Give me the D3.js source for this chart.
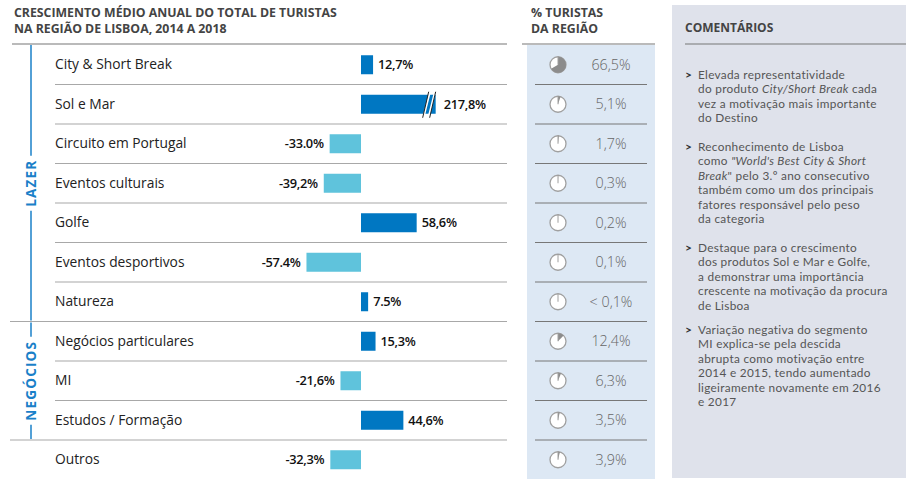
<!DOCTYPE html>
<html><head><meta charset="utf-8">
<script src="https://cdn.jsdelivr.net/npm/d3@7"></script>
<style>
html,body{margin:0;padding:0;background:#fff;}
svg{display:block;font-family:"Open Sans",Lato,sans-serif;}
</style></head>
<body><svg id="c" width="906" height="479"></svg>
<script>
const categories = ["City & Short Break","Sol e Mar","Circuito em Portugal","Eventos culturais","Golfe","Eventos desportivos","Natureza","Negócios particulares","MI","Estudos / Formação","Outros"];
const growth = [12.7, 217.8, -33.0, -39.2, 58.6, -57.4, 7.5, 15.3, -21.6, 44.6, -32.3];
const growthLabels = ["12,7%","217,8%","-33.0%","-39,2%","58,6%","-57.4%","7.5%","15,3%","-21,6%","44,6%","-32,3%"];
const share = [66.5, 5.1, 1.7, 0.3, 0.2, 0.1, 0.05, 12.4, 6.3, 3.5, 3.9];
const shareLabels = ["66,5%","5,1%","1,7%","0,3%","0,2%","0,1%","< 0,1%","12,4%","6,3%","3,5%","3,9%"];
const groups = [{name:"LAZER", from:0, to:6},{name:"NEGÓCIOS", from:7, to:9}];
const titleLines = ["CRESCIMENTO MÉDIO ANUAL DO TOTAL DE TURISTAS","NA REGIÃO DE LISBOA, 2014 A 2018"];
const shareTitle = ["% TURISTAS","DA REGIÃO"];
const commentsTitle = "COMENTÁRIOS";
const comments = [
  [["Elevada representatividade"],["do produto ",{i:"City/Short Break"}," cada"],["vez a motivação mais importante"],["do Destino"]],
  [["Reconhecimento de Lisboa"],["como ",{i:"\"World's Best City & Short"}],[{i:"Break"},"\" pelo 3.º ano consecutivo"],["também como um dos principais"],["fatores responsável pelo peso"],["da categoria"]],
  [["Destaque para o crescimento"],["dos produtos Sol e Mar e Golfe,"],["a demonstrar uma importância"],["crescente na motivação da procura"],["de Lisboa"]],
  [["Variação negativa do segmento"],["MI explica-se pela descida"],["abrupta como motivação entre"],["2014 e 2015, tendo aumentado"],["ligeiramente novamente em 2016"],["e 2017"]]
];
const breakAt = 78.6;

const svg = d3.select("#c");
const y = d3.scaleBand().domain(categories).range([45, 479.5]).padding(0);
const x = d3.scaleLinear().domain([0, 100]).range([361, 456]);
const bh = 19;

// Title
svg.append("g").selectAll("text").data(titleLines).join("text")
  .attr("x", 14).attr("y", (d,i)=>17+i*16)
  .attr("font-size", 12.3).attr("font-weight", 700).attr("fill", "#444").text(d=>d);
svg.append("line").attr("x1",12).attr("x2",507).attr("y1",44).attr("y2",44).attr("stroke","#777").attr("stroke-width",1.2);

// Middle panel background
svg.append("rect").attr("x",527).attr("y",45).attr("width",128).attr("height",434).attr("fill","#dde8f4");
svg.append("g").selectAll("text").data(shareTitle).join("text")
  .attr("x", 531).attr("y", (d,i)=>17+i*16)
  .attr("font-size", 12.3).attr("font-weight", 700).attr("fill", "#444").text(d=>d);
svg.append("line").attr("x1",522).attr("x2",655).attr("y1",44).attr("y2",44).attr("stroke","#777").attr("stroke-width",1.2);

// Right panel
svg.append("rect").attr("x",672).attr("y",5).attr("width",234).attr("height",473).attr("fill","#dfe2eb");
svg.append("text").attr("x",685).attr("y",32).attr("font-size",12).attr("font-weight",700).attr("fill","#444").text(commentsTitle);
svg.append("line").attr("x1",685).attr("x2",906).attr("y1",44).attr("y2",44).attr("stroke","#777").attr("stroke-width",1.2);

// Row separators
const groupEnds = new Set(groups.map(g=>g.to));
categories.slice(0,-1).forEach((c,i)=>{
  const yy = y(c)+y.bandwidth();
  svg.append("line").attr("x1", groupEnds.has(i)?10:55).attr("x2",507).attr("y1",yy).attr("y2",yy).attr("stroke","#a8a8a8").attr("stroke-width",1.2);
  svg.append("line").attr("x1",535).attr("x2",647).attr("y1",yy).attr("y2",yy).attr("stroke","#777").attr("stroke-width",1);
});

// Category labels
svg.append("g").selectAll("text").data(categories).join("text")
  .attr("x",55).attr("y",d=>y(d)+y.bandwidth()/2+4.5)
  .attr("font-size",13.8).attr("fill","#222").text(d=>d);

// Bars
const bars = svg.append("g");
categories.forEach((c,i)=>{
  const v = growth[i];
  const shown = Math.min(v, breakAt);
  const x0 = Math.min(x(0), x(shown)), x1 = Math.max(x(0), x(shown));
  const cy = y(c)+y.bandwidth()/2;
  bars.append("rect").attr("x",x0).attr("y",cy-bh/2).attr("width",x1-x0).attr("height",bh)
    .attr("fill", v>=0 ? "#0077c2" : "#5fc3dc");
  bars.append("text")
    .attr("x", v>=0 ? x1 + (v>breakAt?8:5) : x0-6).attr("y", cy+4.5)
    .attr("text-anchor", v>=0 ? "start" : "end")
    .attr("font-size",12.8).attr("font-weight",600).attr("letter-spacing",-0.3).attr("fill","#111")
    .text(growthLabels[i]);
  if (v > breakAt) {
    const bx = x(breakAt) - 10;
    [0,5].forEach(off=>{
      bars.append("polygon")
        .attr("points", `${bx+off+3},${cy-bh/2-2} ${bx+off+5},${cy-bh/2-2} ${bx+off-1},${cy+bh/2+3} ${bx+off-3},${cy+bh/2+3}`)
        .attr("fill","#fff");
    });
    [0,1].forEach(k=>{
      const o = k*5 + (k===0? -1 : 1);
      bars.append("line").attr("x1",bx+o+4).attr("y1",cy-bh/2-3).attr("x2",bx+o-2).attr("y2",cy+bh/2+4)
        .attr("stroke","#222").attr("stroke-width",1);
    });
  }
});

// Group brackets
groups.forEach(g=>{
  const top = y(categories[g.from]), bot = y(categories[g.to])+y.bandwidth();
  const mid = (top+bot)/2;
  const t = svg.append("text").attr("transform",`translate(36,${mid}) rotate(-90)`)
    .attr("text-anchor","middle").attr("font-size",13.5).attr("font-weight",700)
    .attr("letter-spacing",1.2).attr("fill","#1a80c8").text(g.name);
  const len = t.node().getComputedTextLength();
  const half = len/2 + 4;
  svg.append("line").attr("x1",31).attr("x2",31).attr("y1",top+ (g.from===0?0:1)).attr("y2",mid-half).attr("stroke","#1a80c8").attr("stroke-width",1.5);
  svg.append("line").attr("x1",31).attr("x2",31).attr("y1",mid+half).attr("y2",bot-1).attr("stroke","#1a80c8").attr("stroke-width",1.5);
});

// Pies
const arc = d3.arc().innerRadius(0).outerRadius(8);
const pies = svg.append("g");
categories.forEach((c,i)=>{
  const cy = y(c)+y.bandwidth()/2;
  const g = pies.append("g").attr("transform",`translate(558,${cy})`);
  g.append("circle").attr("r",8).attr("fill","#fff").attr("stroke","#a0a0a0").attr("stroke-width",1.3);
  g.append("path").attr("d", arc({startAngle:0, endAngle:2*Math.PI*share[i]/100})).attr("fill","#8c8c8c");
  g.append("line").attr("x1",0).attr("x2",0).attr("y1",-8).attr("y2",0).attr("stroke","#a0a0a0").attr("stroke-width",1);
  pies.append("text").attr("x",611).attr("y",cy+5).attr("text-anchor","middle")
    .attr("font-size",14.3).attr("font-weight",300).attr("fill","#666").text(shareLabels[i]);
});

// Comments
const starts = [79, 151, 252, 334];
const cg = svg.append("g").attr("font-family","Lato, 'Open Sans', sans-serif").attr("font-size",11.8).attr("letter-spacing",0.3).attr("fill","#555");
comments.forEach((para,pi)=>{
  cg.append("text").attr("x",685).attr("y",starts[pi]).attr("font-weight",700).attr("fill","#333").text(">");
  para.forEach((line,li)=>{
    const t = cg.append("text").attr("x",698).attr("y",starts[pi]+li*14.4);
    line.forEach(seg=>{
      if (typeof seg === "string") t.append("tspan").text(seg);
      else t.append("tspan").attr("font-style","italic").text(seg.i);
    });
  });
});
</script></body></html>
